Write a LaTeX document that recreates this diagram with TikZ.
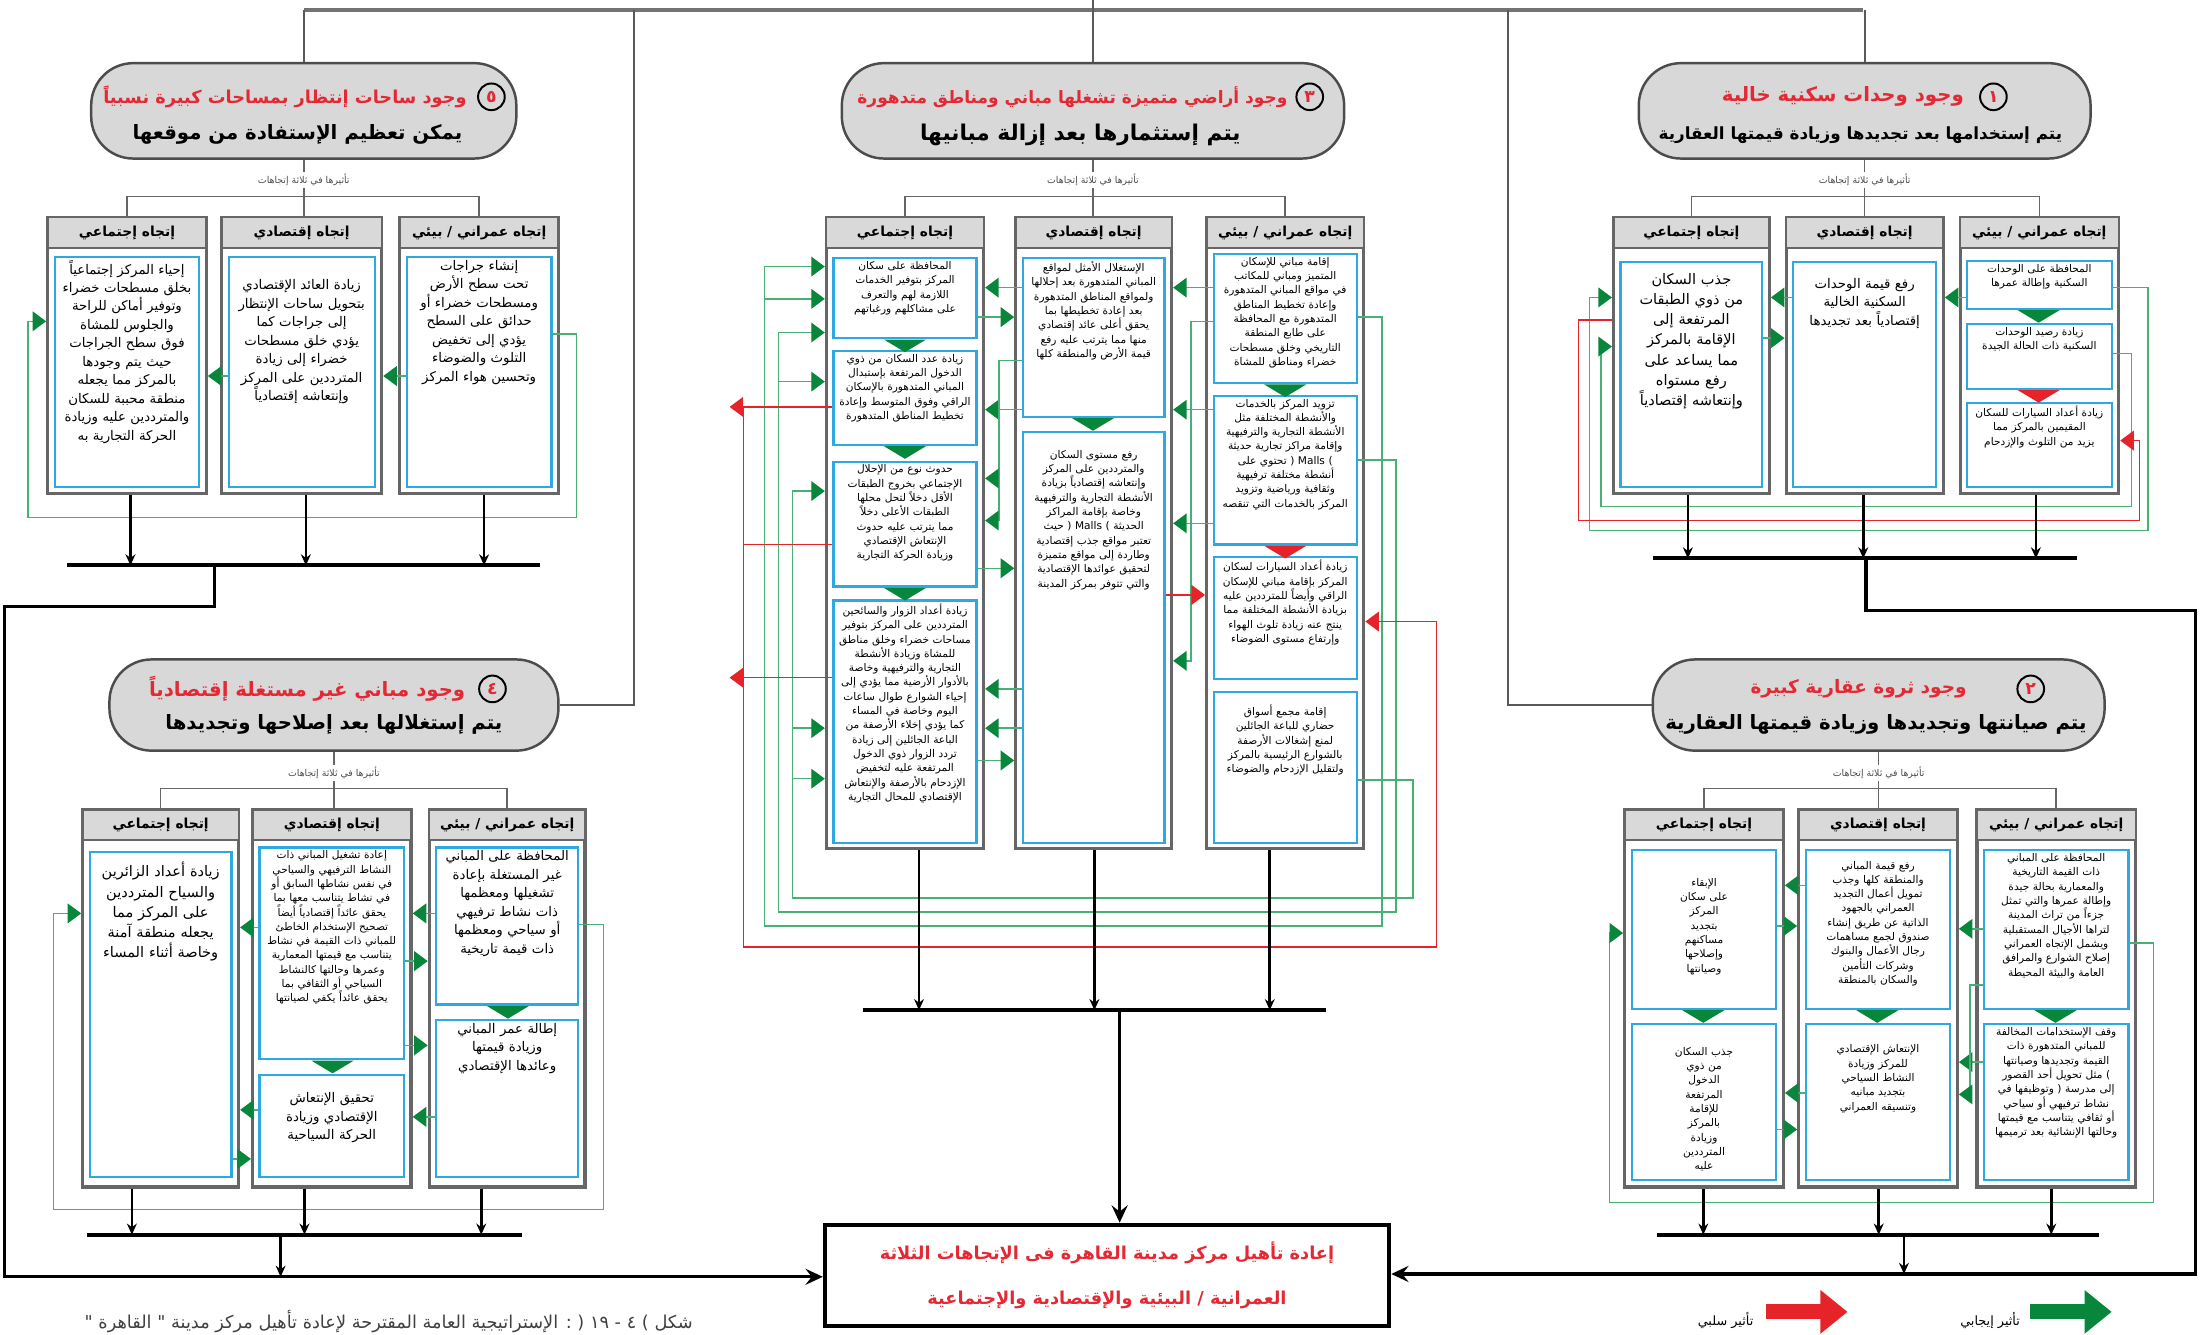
\documentclass[tikz,border=0pt]{standalone}
\usepackage{fontspec}
\usepackage{tikz}
\usetikzlibrary{arrows.meta, positioning, fit}
\newfontfamily\arabicfont[Script=Arabic]{DejaVu Sans}
\TeXXeTstate=1

\definecolor{hdrgray}{RGB}{216,216,216}
\definecolor{boxblue}{RGB}{45,168,225}
\definecolor{lgreen}{RGB}{72,176,116}
\definecolor{dgreen}{RGB}{8,134,60}
\definecolor{negred}{RGB}{230,35,40}
\definecolor{txtred}{RGB}{228,40,52}

\newcommand\artxt[1]{{\arabicfont\leavevmode#1}}

\tikzstyle{hdr} = [draw=black!70, fill=hdrgray, line width=1pt, rounded corners=6mm, inner sep=0pt]
\tikzstyle{redline} = [text=txtred, font=\fontsize{8}{9}\selectfont\bfseries, inner sep=0pt]
\tikzstyle{blkline} = [font=\fontsize{8}{9}\selectfont\bfseries, inner sep=0pt]
\tikzstyle{num} = [circle, draw=black, line width=0.8pt, text=txtred, font=\fontsize{7}{7}\selectfont\bfseries, inner sep=0pt, minimum size=3.8mm]
\tikzstyle{tlabel} = [fill=white, text=black!70, font=\fontsize{3.8}{4}\selectfont, inner sep=0.8pt]
\tikzstyle{col} = [draw=black!60, line width=1.3pt, fill=white, inner sep=0pt]
\tikzstyle{colhead} = [draw=black!60, line width=0.8pt, fill=black!15, inner sep=0pt]
\tikzstyle{coltitle} = [font=\fontsize{5.6}{6}\selectfont\bfseries, inner sep=0pt]
\tikzstyle{sub} = [draw=boxblue, line width=0.9pt, fill=white, inner sep=0pt]
\tikzstyle{subtext} = [anchor=north, align=center, inner sep=0pt, font=\fontsize{4.3}{5.8}\selectfont]
\tikzstyle{bigtext} = [font=\fontsize{5.4}{7.5}\selectfont]
\tikzstyle{hugetext} = [font=\fontsize{5.9}{8.2}\selectfont]
\tikzstyle{topbus} = [draw=black!55, line width=1.8pt]
\tikzstyle{trunk} = [draw=black!65, line width=0.7pt]
\tikzstyle{tie} = [draw=black!60, line width=0.6pt]
\tikzstyle{dn} = [draw=black, line width=1.1pt, -{Stealth[length=4.5pt,width=4pt]}]
\tikzstyle{bus} = [draw=black, line width=1.6pt]
\tikzstyle{feed} = [draw=black, line width=1.3pt, -{Stealth[length=7pt,width=6.5pt,inset=2.5pt]}]
\tikzstyle{goodfx} = [draw=lgreen, line width=0.6pt, -{Triangle[length=5.5pt,width=8pt,color=dgreen]}]
\tikzstyle{badfx} = [draw=negred, line width=0.6pt, -{Triangle[length=5.5pt,width=8pt,color=negred]}]
\tikzstyle{badline} = [draw=negred, line width=0.6pt]
\tikzstyle{final} = [draw=black, line width=1.8pt, inner sep=0pt]
\tikzstyle{finaltext} = [text=txtred, align=center, font=\fontsize{7.2}{8}\selectfont\bfseries]
\tikzstyle{legtext} = [font=\fontsize{5.2}{6}\selectfont, inner sep=0pt]
\tikzstyle{legpos} = [draw=dgreen, line width=6pt, -{Triangle[length=11pt,width=17pt]}]
\tikzstyle{legneg} = [draw=negred, line width=6pt, -{Triangle[length=11pt,width=17pt]}]
\tikzstyle{captext} = [text=black!75, font=\fontsize{7.2}{8}\selectfont, inner sep=0pt]

% column frame: name, x1, x2, y1, y2, title
\newcommand\colbox[6]{%
  \node[col, fit={(#2,#4) (#3,#5)}] (#1) {};
  \node[colhead, fit={(#2,#4) (#3,#4+22)}] (#1h) {};
  \node[coltitle] (#1t) at (#1h.center) {\artxt{#6}};
}
% blue effect box: [style] name, x1, x2, y1, y2, text
\newcommand\subbox[7][]{%
  \node[sub, fit={(#3,#5) (#4,#6)}] (#2) {};
  \pgfmathsetmacro\tw{(#4-#3)*0.2-1.6}
  \node[subtext, text width=\tw mm, #1] (#2t) at ([yshift=-1.6pt]#2.north) {\artxt{#7}};
}
% small down triangle between two boxes
\newcommand\tri[3]{\fill[#1] (#2-15,#3) -- (#2+15,#3) -- (#2,#3+9) -- cycle;}
% side arrows at a given height
\newcommand\tol[4]{\draw[#1] (#2.west |- 0,#4) -- (#3.east |- 0,#4);}
\newcommand\tor[4]{\draw[#1] (#2.east |- 0,#4) -- (#3.west |- 0,#4);}

\begin{document}
\begin{tikzpicture}[x=0.2mm, y=-0.2mm]
\useasboundingbox (0,0) rectangle (1568,951);

%% headers
\node[hdr, fit={(65,45) (368,113)}] (h5) {};
\node[redline, font=\fontsize{7.2}{8}\selectfont\bfseries, anchor=east] (h5r) at (333,69) {\artxt{\beginR وجود ساحات إنتظار بمساحات كبيرة نسبياً\endR}};
\node[num, right=4pt of h5r] (h5n) {\artxt{\beginR ٥\endR}};
\node[blkline] (h5b) at (212,96) {\artxt{\beginR يمكن تعظيم الإستفادة من موقعها\endR}};

\node[hdr, fit={(600,45) (958,113)}] (h3) {};
\node[redline, font=\fontsize{6.9}{8}\selectfont\bfseries, anchor=east] (h3r) at (918,69) {\artxt{\beginR وجود أراضي متميزة تشغلها مباني ومناطق متدهورة\endR}};
\node[num, right=3pt of h3r] (h3n) {\artxt{\beginR ٣\endR}};
\node[blkline, font=\fontsize{8.8}{9}\selectfont\bfseries] (h3b) at (770,96) {\artxt{\beginR يتم إستثمارها بعد إزالة مبانيها\endR}};

\node[hdr, fit={(1168,45) (1490,113)}] (h1) {};
\node[redline, anchor=east] (h1r) at (1400,69) {\artxt{\beginR وجود وحدات سكنية خالية\endR}};
\node[num, right=6pt of h1r] (h1n) {\artxt{\beginR ١\endR}};
\node[blkline, font=\fontsize{6.8}{8}\selectfont\bfseries] (h1b) at (1326,96) {\artxt{\beginR يتم إستخدامها بعد تجديدها وزيادة قيمتها العقارية\endR}};

\node[hdr, fit={(78,470) (398,535)}] (h4) {};
\node[redline, anchor=east] (h4r) at (332,491) {\artxt{\beginR وجود مباني غير مستغلة إقتصادياً\endR}};
\node[num, right=5pt of h4r] (h4n) {\artxt{\beginR ٤\endR}};
\node[blkline] (h4b) at (238,516) {\artxt{\beginR يتم إستغلالها بعد إصلاحها وتجديدها\endR}};

\node[hdr, fit={(1178,470) (1500,535)}] (h2) {};
\node[redline, font=\fontsize{7.5}{8}\selectfont\bfseries, anchor=east] (h2r) at (1402,491) {\artxt{\beginR وجود ثروة عقارية كبيرة\endR}};
\node[num, right=20pt of h2r] (h2n) {\artxt{\beginR ٢\endR}};
\node[blkline] (h2b) at (1337,516) {\artxt{\beginR يتم صيانتها وتجديدها وزيادة قيمتها العقارية\endR}};

%% top distribution
\draw[topbus] (217,7) -- (1328,7);
\draw[trunk] (h3.north |- 0,0) -- (h3.north);
\draw[trunk] (h5.north |- 0,7) -- (h5.north);
\draw[trunk] (h1.north |- 0,7) -- (h1.north);
\draw[trunk] (452,7) |- (h4.east);
\draw[trunk] (1075,7) |- (h2.west);

%% group 5
\colbox{c5s}{34}{147}{155}{352}{\beginR إتجاه إجتماعي\endR}
\colbox{c5e}{158}{272}{155}{352}{\beginR إتجاه إقتصادي\endR}
\colbox{c5u}{285}{398}{155}{352}{\beginR إتجاه عمراني / بيئي\endR}
\subbox[bigtext]{s5s}{39}{142}{183}{347}{\beginR إحياء المركز إجتماعياً بخلق مسطحات خضراء وتوفير أماكن للراحة والجلوس للمشاة فوق سطح الجراجات حيث يتم وجودها بالمركز مما يجعله منطقة محببة للسكان والمترددين عليه وزيادة الحركة التجارية به\endR}
\subbox[bigtext, yshift=-8pt]{s5e}{163}{267}{183}{347}{\beginR زيادة العائد الإقتصادي بتحويل ساحات الإنتظار إلى جراجات كما يؤدي خلق مسطحات خضراء إلى زيادة المترددين على المركز وإنتعاشه إقتصادياً\endR}
\subbox[bigtext]{s5u}{290}{393}{183}{347}{\beginR إنشاء جراجات تحت سطح الأرض ومسطحات خضراء أو حدائق على السطح يؤدي إلى تخفيض التلوث والضوضاء وتحسين هواء المركز\endR}
\draw[tie] (h5.south) -- (h5.south |- c5e.north);
\draw[tie] (c5s.north) |- (c5u.north |- 0,140) -- (c5u.north);
\node[tlabel] (l5) at (h5.south |- 0,128) {\artxt{\beginR تأثيرها في ثلاثة إتجاهات\endR}};

%% group 3
\colbox{c3s}{589}{701}{155}{605}{\beginR إتجاه إجتماعي\endR}
\colbox{c3e}{724}{835}{155}{605}{\beginR إتجاه إقتصادي\endR}
\colbox{c3u}{860}{972}{155}{605}{\beginR إتجاه عمراني / بيئي\endR}
\subbox{s3s1}{594}{696}{184}{241}{\beginR المحافظة على سكان المركز بتوفير الخدمات اللازمة لهم والتعرف على مشاكلهم ورغباتهم\endR}
\subbox{s3s2}{594}{696}{250}{317}{\beginR زيادة عدد السكان من ذوي الدخول المرتفعة بإستبدال المباني المتدهورة بالإسكان الراقي وفوق المتوسط وإعادة تخطيط المناطق المتدهورة\endR}
\subbox{s3s3}{594}{696}{329}{418}{\beginR حدوث نوع من الإحلال الإجتماعي بخروج الطبقات الأقل دخلاً لتحل محلها الطبقات الأعلى دخلاً مما يترتب عليه حدوث الإنتعاش الإقتصادي وزيادة الحركة التجارية\endR}
\subbox{s3s4}{594}{696}{428}{601}{\beginR زيادة أعداد الزوار والسائحين المترددين على المركز بتوفير مساحات خضراء وخلق مناطق للمشاة وزيادة الأنشطة التجارية والترفيهية وخاصة بالأدوار الأرضية مما يؤدي إلى إحياء الشوارع طوال ساعات اليوم وخاصة في المساء كما يؤدي إخلاء الأرصفة من الباعة الجائلين إلى زيادة تردد الزوار ذوي الدخول المرتفعة عليه لتخفيض الإزدحام بالأرصفة والإنتعاش الإقتصادي للمحال التجارية\endR}
\subbox{s3e1}{729}{830}{184}{297}{\beginR الإستغلال الأمثل لمواقع المباني المتدهورة بعد إحلالها ولمواقع المناطق المتدهورة بعد إعادة تخطيطها بما يحقق أعلى عائد إقتصادي منها مما يترتب عليه رفع قيمة الأرض والمنطقة كلها\endR}
\subbox[yshift=-6pt]{s3e2}{729}{830}{308}{601}{\beginR رفع مستوى السكان والمترددين على المركز وإنتعاشه إقتصادياً بزيادة الأنشطة التجارية والترفيهية وخاصة بإقامة المراكز الحديثة ) \beginL Malls\endL{} ( حيث تعتبر مواقع جذب إقتصادية وطاردة إلى مواقع متميزة لتحقيق عوائدها الإقتصادية والتي تتوفر بمركز المدينة\endR}
\subbox{s3u1}{865}{967}{181}{273}{\beginR إقامة مباني للإسكان المتميز ومباني للمكاتب في مواقع المباني المتدهورة وإعادة تخطيط المناطق المتدهورة مع المحافظة على طابع المنطقة التاريخي وخلق مسطحات خضراء ومناطق للمشاة\endR}
\subbox{s3u2}{865}{967}{282}{388}{\beginR تزويد المركز بالخدمات والأنشطة المختلفة مثل الأنشطة التجارية والترفيهية وإقامة مراكز تجارية حديثة ) \beginL Malls\endL{} ( تحتوي على أنشطة مختلفة ترفيهية وثقافية ورياضية وتزويد المركز بالخدمات التي تنقصه\endR}
\subbox{s3u3}{865}{967}{397}{484}{\beginR زيادة أعداد السيارات لسكان المركز بإقامة مباني للإسكان الراقي وأيضاً للمترددين عليه بزيادة الأنشطة المختلفة مما ينتج عنه زيادة تلوث الهواء وإرتفاع مستوى الضوضاء\endR}
\subbox[yshift=-4pt]{s3u4}{865}{967}{493}{601}{\beginR إقامة مجمع أسواق حضاري للباعة الجائلين لمنع إشغالات الأرصفة بالشوارع الرئيسية بالمركز ولتقليل الإزدحام والضوضاء\endR}
\tri{dgreen}{645}{242}
\tri{dgreen}{645}{318}
\tri{dgreen}{645}{419}
\tri{dgreen}{779}{298}
\tri{dgreen}{916}{274}
\tri{negred}{916}{389}
\draw[tie] (h3.south) -- (h3.south |- c3e.north);
\draw[tie] (c3s.north) |- (c3u.north |- 0,140) -- (c3u.north);
\node[tlabel] (l3) at (h3.south |- 0,128) {\artxt{\beginR تأثيرها في ثلاثة إتجاهات\endR}};

%% group 1
\colbox{c1s}{1150}{1261}{155}{352}{\beginR إتجاه إجتماعي\endR}
\colbox{c1e}{1273}{1385}{155}{352}{\beginR إتجاه إقتصادي\endR}
\colbox{c1u}{1397}{1510}{155}{352}{\beginR إتجاه عمراني / بيئي\endR}
\subbox[hugetext, text width=16mm, yshift=-3pt]{s1s}{1155}{1256}{187}{347}{\beginR جذب السكان من ذوي الطبقات المرتفعة إلى الإقامة بالمركز مما يساعد على رفع مستواه وإنتعاشه إقتصادياً\endR}
\subbox[bigtext, yshift=-5pt]{s1e}{1278}{1380}{187}{347}{\beginR رفع قيمة الوحدات السكنية الخالية إقتصادياً بعد تجديدها\endR}
\subbox{s1u1}{1402}{1505}{186}{220}{\beginR المحافظة على الوحدات السكنية وإطالة عمرها\endR}
\subbox{s1u2}{1402}{1505}{231}{277}{\beginR زيادة رصيد الوحدات السكنية ذات الحالة الجيدة\endR}
\subbox{s1u3}{1402}{1505}{287}{347}{\beginR زيادة أعداد السيارات للسكان المقيمين بالمركز مما يزيد من التلوث والإزدحام\endR}
\tri{dgreen}{1453}{221}
\tri{negred}{1453}{278}
\draw[tie] (h1.south) -- (h1.south |- c1e.north);
\draw[tie] (c1s.north) |- (c1u.north |- 0,140) -- (c1u.north);
\node[tlabel] (l1) at (h1.south |- 0,128) {\artxt{\beginR تأثيرها في ثلاثة إتجاهات\endR}};

%% group 4
\colbox{c4s}{59}{170}{577}{846}{\beginR إتجاه إجتماعي\endR}
\colbox{c4e}{180}{293}{577}{846}{\beginR إتجاه إقتصادي\endR}
\colbox{c4u}{306}{417}{577}{846}{\beginR إتجاه عمراني / بيئي\endR}
\subbox[hugetext, yshift=-3pt]{s4s}{64}{165}{607}{839}{\beginR زيادة أعداد الزائرين والسياح المترددين على المركز مما يجعله منطقة آمنة وخاصة أثناء المساء\endR}
\subbox{s4e1}{185}{288}{604}{755}{\beginR إعادة تشغيل المباني ذات النشاط الترفيهي والسياحي في نفس نشاطها السابق أو في نشاط يتناسب معها بما يحقق عائداً إقتصادياً أيضاً تصحيح الإستخدام الخاطئ للمباني ذات القيمة في نشاط يتناسب مع قيمتها المعمارية وعمرها وحالتها كالنشاط السياحي أو الثقافي بما يحقق عائداً يكفي لصيانتها\endR}
\subbox[bigtext, yshift=-6pt]{s4e2}{185}{288}{766}{839}{\beginR تحقيق الإنتعاش الإقتصادي وزيادة الحركة السياحية\endR}
\subbox[bigtext]{s4u1}{311}{412}{604}{716}{\beginR المحافظة على المباني غير المستغلة بإعادة تشغيلها ومعظمها ذات نشاط ترفيهي أو سياحي ومعظمها ذات قيمة تاريخية\endR}
\subbox[bigtext]{s4u2}{311}{412}{727}{839}{\beginR إطالة عمر المباني وزيادة قيمتها وعائدها الإقتصادي\endR}
\tri{dgreen}{237}{756}
\tri{dgreen}{362}{717}
\draw[tie] (h4.south) -- (h4.south |- c4e.north);
\draw[tie] (c4s.north) |- (c4u.north |- 0,562) -- (c4u.north);
\node[tlabel] (l4) at (h4.south |- 0,551) {\artxt{\beginR تأثيرها في ثلاثة إتجاهات\endR}};

%% group 2
\colbox{c2s}{1158}{1271}{577}{846}{\beginR إتجاه إجتماعي\endR}
\colbox{c2e}{1282}{1395}{577}{846}{\beginR إتجاه إقتصادي\endR}
\colbox{c2u}{1409}{1522}{577}{846}{\beginR إتجاه عمراني / بيئي\endR}
\subbox[text width=7mm, yshift=-10pt]{s2s1}{1163}{1266}{606}{719}{\beginR الإبقاء على سكان المركز بتجديد مساكنهم وإصلاحها وصيانتها\endR}
\subbox[text width=8.5mm, yshift=-8pt]{s2s2}{1163}{1266}{730}{841}{\beginR جذب السكان من ذوي الدخول المرتفعة للإقامة بالمركز وزيادة المترددين عليه\endR}
\subbox[text width=15mm, yshift=-3pt]{s2e1}{1287}{1390}{606}{719}{\beginR رفع قيمة المباني والمنطقة كلها وجذب تمويل أعمال التجديد العمراني بالجهود الذاتية عن طريق إنشاء صندوق لجمع مساهمات رجال الأعمال والبنوك وشركات التأمين والسكان بالمنطقة\endR}
\subbox[text width=12mm, yshift=-7pt]{s2e2}{1287}{1390}{730}{841}{\beginR الإنتعاش الإقتصادي للمركز وزيادة النشاط السياحي بتجديد مبانيه وتنسيقه العمراني\endR}
\subbox{s2u1}{1414}{1517}{606}{719}{\beginR المحافظة على المباني ذات القيمة التاريخية والمعمارية بحالة جيدة وإطالة عمرها والتي تمثل جزءاً من تراث المدينة لتراها الأجيال المستقبلية ويشمل الإتجاه العمراني إصلاح الشوارع والمرافق العامة والبيئة المحيطة\endR}
\subbox{s2u2}{1414}{1517}{730}{841}{\beginR وقف الإستخدامات المخالفة للمباني المتدهورة ذات القيمة وتجديدها وصيانتها ) مثل تحويل أحد القصور إلى مدرسة ( وتوظيفها في نشاط ترفيهي أو سياحي أو ثقافي يتناسب مع قيمتها وحالتها الإنشائية بعد ترميمها\endR}
\tri{dgreen}{1214}{720}
\tri{dgreen}{1338}{720}
\tri{dgreen}{1465}{720}
\draw[tie] (h2.south) -- (h2.south |- c2e.north);
\draw[tie] (c2s.north) |- (c2u.north |- 0,562) -- (c2u.north);
\node[tlabel] (l2) at (h2.south |- 0,551) {\artxt{\beginR تأثيرها في ثلاثة إتجاهات\endR}};

%% positive / negative effects
% group 5
\tol{goodfx}{s5u}{c5e}{268}
\tol{goodfx}{s5e}{c5s}{268}
\draw[goodfx] (s5u.east |- 0,238) -- (411,238) -- (411,369) -- (20,369) -- (20,229) -- (c5s.west |- 0,229);
% group 1
\tol{goodfx}{s1e}{c1s}{212}
\tor{goodfx}{s1s}{c1e}{241}
\tol{goodfx}{s1u1}{c1e}{212}
\draw[goodfx] (s1u1.east |- 0,205) -- (1531,205) -- (1531,378) -- (1133,378) -- (1133,212) -- (c1s.west |- 0,212);
\draw[goodfx] (s1u2.east |- 0,252) -- (1519,252) -- (1519,361) -- (1141,361) -- (1141,247) -- (c1s.west |- 0,247);
\draw[badfx] (c1s.west |- 0,228) -- (1125,228) -- (1125,371) -- (1525,371) -- (1525,314) -- (c1u.east |- 0,314);
% group 3
\tol{goodfx}{s3e1}{c3s}{205}
\tor{goodfx}{s3s1}{c3e}{226}
\tol{goodfx}{s3e1}{c3s}{292}
\draw[goodfx] (s3e1.west |- 0,257) -- (712,257) -- (712,371) -- (c3s.east |- 0,371);
\draw[goodfx] (712,341) -- (c3s.east |- 0,341);
\tor{goodfx}{s3s3}{c3e}{405}
\tol{goodfx}{s3e2}{c3s}{491}
\tol{goodfx}{s3e2}{c3s}{519}
\tor{goodfx}{s3s4}{c3e}{542}
\tol{goodfx}{s3u1}{c3e}{205}
\tol{goodfx}{s3u2}{c3e}{292}
\tol{goodfx}{s3u2}{c3e}{373}
\draw[goodfx] (s3u1.west |- 0,229) -- (849,229) -- (849,471) -- (c3e.east |- 0,471);
\tor{badfx}{s3e2}{c3u}{424}
\draw[goodfx] (s3u1.east |- 0,226) -- (985,226) -- (985,660) -- (545,660) -- (545,190) -- (c3s.west |- 0,190);
\draw[goodfx] (545,213) -- (c3s.west |- 0,213);
\draw[goodfx] (s3u2.east |- 0,328) -- (995,328) -- (995,650) -- (555,650) -- (555,237) -- (c3s.west |- 0,237);
\draw[goodfx] (555,272) -- (c3s.west |- 0,272);
\draw[goodfx] (s3u4.east |- 0,556) -- (1007,556) -- (1007,640) -- (565,640) -- (565,350) -- (c3s.west |- 0,350);
\draw[goodfx] (565,519) -- (c3s.west |- 0,519);
\draw[goodfx] (565,555) -- (c3s.west |- 0,555);
\draw[badfx] (s3s2.west |- 0,290) -- (520,290);
\draw[badfx] (s3s4.west |- 0,483) -- (520,483);
\draw[badline] (s3s3.west |- 0,388) -- (530,388);
\draw[badfx] (530,290) -- (530,675) -- (1024,675) -- (1024,443) -- (c3u.east |- 0,443);
% group 4
\tol{goodfx}{s4u1}{c4e}{651}
\tor{goodfx}{s4e1}{c4u}{685}
\tor{goodfx}{s4e1}{c4u}{745}
\tol{goodfx}{s4u2}{c4e}{796}
\tol{goodfx}{s4e1}{c4s}{661}
\tol{goodfx}{s4e2}{c4s}{791}
\tor{goodfx}{s4s}{c4e}{826}
\draw[goodfx] (s4u1.east |- 0,659) -- (430,659) -- (430,862) -- (38,862) -- (38,651) -- (c4s.west |- 0,651);
% group 2
\tol{goodfx}{s2e1}{c2s}{631}
\tor{goodfx}{s2s1}{c2e}{660}
\tol{goodfx}{s2e2}{c2s}{779}
\tor{goodfx}{s2s2}{c2e}{805}
\tol{goodfx}{s2u1}{c2e}{662}
\tol{goodfx}{s2u2}{c2e}{757}
\draw[goodfx] (s2u1.west |- 0,702) -- (1404,702) -- (1404,780) -- (c2e.east |- 0,780);
\draw[goodfx] (s2u1.east |- 0,672) -- (1535,672) -- (1535,857) -- (1147,857) -- (1147,665) -- (c2s.west |- 0,665);

%% collecting buses
\draw[dn] (c5s.south -| 93,0) -- (93,403);
\draw[dn] (c5e.south -| 218,0) -- (218,403);
\draw[dn] (c5u.south -| 345,0) -- (345,403);
\draw[bus] (48,403) -- (385,403);
\coordinate (b5) at (153,403);

\draw[dn] (c3s.south -| 655,0) -- (655,720);
\draw[dn] (c3e.south -| 780,0) -- (780,720);
\draw[dn] (c3u.south -| 905,0) -- (905,720);
\draw[bus] (615,720) -- (945,720);
\coordinate (b3) at (798,720);

\draw[dn] (c1s.south -| 1203,0) -- (1203,398);
\draw[dn] (c1e.south -| 1328,0) -- (1328,398);
\draw[dn] (c1u.south -| 1451,0) -- (1451,398);
\draw[bus] (1178,398) -- (1480,398);
\coordinate (b1) at (1330,398);

\draw[dn] (c4s.south -| 94,0) -- (94,880);
\draw[dn] (c4e.south -| 217,0) -- (217,880);
\draw[dn] (c4u.south -| 343,0) -- (343,880);
\draw[bus] (62,880) -- (372,880);
\coordinate (b4) at (200,880);

\draw[dn] (c2s.south -| 1214,0) -- (1214,880);
\draw[dn] (c2e.south -| 1339,0) -- (1339,880);
\draw[dn] (c2u.south -| 1462,0) -- (1462,880);
\draw[bus] (1181,880) -- (1496,880);
\coordinate (b2) at (1357,880);

%% goal
\node[final, fit={(588,873) (990,945)}] (fin) {};
\node[finaltext] (fint) at (fin.center) {\artxt{\beginR إعادة تأهيل مركز مدينة القاهرة فى الإتجاهات الثلاثة\endR}\\[10pt]\artxt{\beginR العمرانية / البيئية والإقتصادية والإجتماعية\endR}};
\draw[feed] (b5) -- (153,432) -- (3,432) -- (3,910) -- (fin.west |- 0,910);
\draw[dn] (b4) -- (200,910);
\draw[feed] (b3) -- (b3 |- fin.north);
\draw[feed] (b1) -- (1330,435) -- (1565,435) -- (1565,908) -- (fin.east |- 0,908);
\draw[dn] (b2) -- (1357,908);

%% legend
\node[legtext, anchor=east] (lg1) at (1440,941) {\artxt{\beginR تأثير إيجابي\endR}};
\draw[legpos] ([xshift=4pt]lg1.east |- 0,935) -- ++(58,0);
\node[legtext, anchor=east] (lg2) at (1250,941) {\artxt{\beginR تأثير سلبي\endR}};
\draw[legneg] ([xshift=5pt]lg2.east |- 0,935) -- ++(58,0);

\node[captext, anchor=west] (cap) at (60,942) {\artxt{\beginR شكل ) ٤ - ١٩ ( : الإستراتيجية العامة المقترحة لإعادة تأهيل مركز مدينة " القاهرة "\endR}};
\end{tikzpicture}
\end{document}
